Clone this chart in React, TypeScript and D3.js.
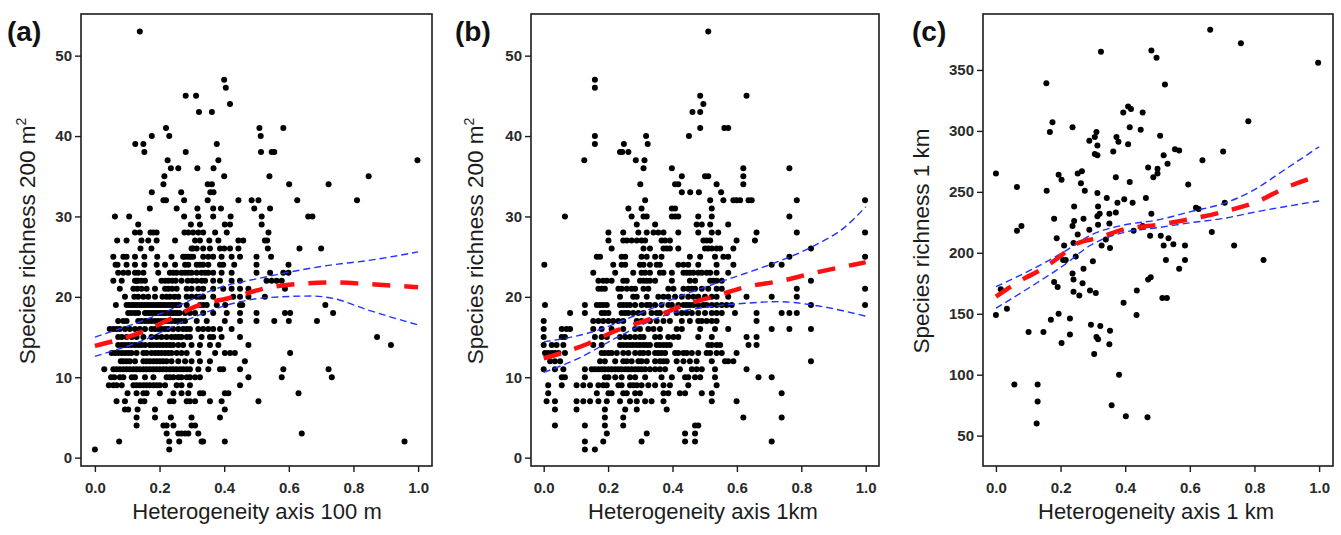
import React, { useEffect, useRef } from "react";
import * as d3 from "d3";

type Row = [number, number[]];
type Pt = [number, number];

// (a) richness in 200 m2 plots vs heterogeneity 100 m; one row per richness value
const rowsA: Row[] = [
  [53, [0.139]],
  [47, [0.4]],
  [46, [0.405]],
  [45, [0.281, 0.313]],
  [44, [0.418]],
  [43, [0.322, 0.362]],
  [41, [0.22, 0.509, 0.583]],
  [40, [0.176, 0.23, 0.513]],
  [39, [0.125, 0.15, 0.377]],
  [38, [0.153, 0.281, 0.514, 0.547, 0.555]],
  [37, [0.225, 0.382, 0.998]],
  [36, [0.235, 0.258, 0.317, 0.367]],
  [35, [0.215, 0.4, 0.54, 0.847]],
  [34, [0.212, 0.349, 0.362, 0.601, 0.723]],
  [33, [0.176, 0.267, 0.357, 0.367]],
  [32, [0.212, 0.22, 0.276, 0.349, 0.444, 0.485, 0.506, 0.626, 0.811]],
  [31, [0.17, 0.253, 0.317, 0.366, 0.39, 0.493, 0.542]],
  [30, [0.062, 0.106, 0.276, 0.32, 0.366, 0.42, 0.516, 0.66, 0.673]],
  [29, [0.134, 0.297, 0.325, 0.402, 0.418, 0.516]],
  [28, [0.124, 0.139, 0.172, 0.181, 0.191, 0.277, 0.289, 0.304, 0.32, 0.335, 0.372, 0.408, 0.537]],
  [27, [0.069, 0.098, 0.144, 0.165, 0.191, 0.248, 0.31, 0.325, 0.354, 0.382, 0.444, 0.459, 0.526, 0.533]],
  [26, [0.141, 0.175, 0.299, 0.304, 0.315, 0.335, 0.356, 0.387, 0.4, 0.418, 0.444, 0.535, 0.633, 0.7]],
  [25, [0.057, 0.088, 0.098, 0.124, 0.153, 0.193, 0.237, 0.273, 0.279, 0.289, 0.297, 0.304, 0.335, 0.351, 0.366, 0.392, 0.423, 0.449, 0.5, 0.545]],
  [24, [0.064, 0.07, 0.098, 0.124, 0.153, 0.191, 0.217, 0.248, 0.279, 0.289, 0.315, 0.325, 0.335, 0.351, 0.387, 0.397, 0.431, 0.5, 0.599]],
  [23, [0.072, 0.088, 0.103, 0.124, 0.134, 0.15, 0.196, 0.232, 0.243, 0.253, 0.268, 0.279, 0.289, 0.299, 0.315, 0.33, 0.341, 0.351, 0.366, 0.392, 0.423, 0.5, 0.542, 0.583, 0.599]],
  [22, [0.057, 0.083, 0.124, 0.129, 0.134, 0.144, 0.155, 0.206, 0.217, 0.227, 0.239, 0.25, 0.268, 0.287, 0.301, 0.315, 0.33, 0.341, 0.366, 0.387, 0.423, 0.449, 0.531, 0.547, 0.562, 0.578]],
  [21, [0.077, 0.119, 0.131, 0.144, 0.16, 0.186, 0.217, 0.227, 0.239, 0.253, 0.284, 0.299, 0.32, 0.335, 0.366, 0.397, 0.423, 0.449, 0.475, 0.588]],
  [20, [0.093, 0.122, 0.134, 0.15, 0.165, 0.186, 0.209, 0.222, 0.232, 0.246, 0.258, 0.284, 0.299, 0.315, 0.325, 0.335, 0.366, 0.428, 0.449, 0.475, 0.526]],
  [19, [0.065, 0.098, 0.106, 0.114, 0.122, 0.13, 0.139, 0.147, 0.155, 0.163, 0.171, 0.18, 0.188, 0.196, 0.204, 0.212, 0.22, 0.229, 0.237, 0.245, 0.253, 0.261, 0.284, 0.325, 0.335, 0.346, 0.377, 0.403, 0.449, 0.456, 0.713]],
  [18, [0.103, 0.113, 0.124, 0.134, 0.155, 0.163, 0.171, 0.18, 0.188, 0.196, 0.204, 0.212, 0.22, 0.229, 0.237, 0.245, 0.253, 0.262, 0.279, 0.294, 0.31, 0.335, 0.366, 0.408, 0.449, 0.5, 0.588, 0.604, 0.737]],
  [17, [0.072, 0.088, 0.098, 0.134, 0.144, 0.155, 0.165, 0.175, 0.186, 0.196, 0.206, 0.217, 0.227, 0.237, 0.248, 0.258, 0.268, 0.279, 0.315, 0.346, 0.402, 0.449, 0.5, 0.555, 0.6, 0.687]],
  [16, [0.046, 0.057, 0.067, 0.077, 0.093, 0.108, 0.124, 0.139, 0.155, 0.175, 0.186, 0.196, 0.206, 0.217, 0.227, 0.242, 0.258, 0.273, 0.284, 0.294, 0.32, 0.335, 0.351, 0.366, 0.387, 0.423]],
  [15, [0.072, 0.083, 0.098, 0.114, 0.129, 0.15, 0.175, 0.191, 0.206, 0.222, 0.237, 0.248, 0.258, 0.268, 0.284, 0.294, 0.33, 0.356, 0.366, 0.392, 0.449, 0.873]],
  [14, [0.072, 0.083, 0.093, 0.103, 0.113, 0.124, 0.134, 0.144, 0.155, 0.17, 0.18, 0.191, 0.201, 0.211, 0.222, 0.232, 0.242, 0.258, 0.273, 0.299, 0.325, 0.356, 0.382, 0.475, 0.916]],
  [13, [0.052, 0.062, 0.072, 0.083, 0.093, 0.103, 0.113, 0.129, 0.15, 0.16, 0.175, 0.186, 0.196, 0.206, 0.217, 0.227, 0.237, 0.253, 0.268, 0.284, 0.32, 0.372, 0.402, 0.418, 0.433, 0.604]],
  [12, [0.08, 0.088, 0.098, 0.108, 0.124, 0.15, 0.16, 0.17, 0.181, 0.191, 0.201, 0.211, 0.222, 0.237, 0.258, 0.279, 0.299, 0.325, 0.356, 0.464]],
  [11, [0.029, 0.057, 0.067, 0.077, 0.088, 0.098, 0.108, 0.119, 0.129, 0.139, 0.15, 0.16, 0.17, 0.18, 0.19, 0.2, 0.211, 0.221, 0.232, 0.242, 0.252, 0.263, 0.273, 0.284, 0.294, 0.32, 0.351, 0.387, 0.397, 0.449, 0.583, 0.723]],
  [10, [0.05, 0.06, 0.077, 0.088, 0.114, 0.124, 0.155, 0.181, 0.222, 0.232, 0.243, 0.258, 0.268, 0.284, 0.294, 0.31, 0.325, 0.475, 0.578, 0.733]],
  [9, [0.043, 0.057, 0.067, 0.083, 0.119, 0.129, 0.139, 0.15, 0.16, 0.17, 0.181, 0.191, 0.201, 0.217, 0.253, 0.268, 0.294, 0.449]],
  [8, [0.101, 0.129, 0.15, 0.16, 0.201, 0.243, 0.268, 0.289, 0.325, 0.335, 0.402, 0.413, 0.63]],
  [7, [0.067, 0.093, 0.142, 0.153, 0.232, 0.243, 0.284, 0.294, 0.31, 0.356, 0.392, 0.506]],
  [6, [0.093, 0.103, 0.132, 0.186, 0.402]],
  [5, [0.129, 0.186, 0.235, 0.299, 0.387]],
  [4, [0.129, 0.212, 0.222, 0.243, 0.299, 0.31]],
  [3, [0.222, 0.258, 0.268, 0.279, 0.289, 0.32, 0.64]],
  [2, [0.075, 0.23, 0.261, 0.33, 0.335, 0.402, 0.958]],
  [1, [0.0, 0.23]],
];
const fitA: Pt[] = [[0, 13.9], [0.15, 15.7], [0.22, 17.0], [0.325, 19.0], [0.41, 19.8], [0.45, 20.2], [0.52, 21.0], [0.6, 21.5], [0.74, 21.8], [0.84, 21.6], [1.0, 21.2]];
const upperA: Pt[] = [[0, 15.0], [0.222, 18.2], [0.367, 20.9], [0.532, 22.5], [0.738, 24.0], [0.842, 24.5], [1.0, 25.6]];
const lowerA: Pt[] = [[0, 12.6], [0.15, 14.6], [0.284, 17.1], [0.429, 19.2], [0.532, 19.9], [0.672, 20.1], [0.738, 19.8], [0.842, 18.4], [1.0, 16.5]];

// (b) richness in 200 m2 plots vs heterogeneity 1 km
const rowsB: Row[] = [
  [53, [0.511]],
  [47, [0.159]],
  [46, [0.159]],
  [45, [0.486, 0.63]],
  [44, [0.496]],
  [43, [0.462, 0.486]],
  [41, [0.486, 0.561, 0.573]],
  [40, [0.159, 0.318, 0.451]],
  [39, [0.159, 0.249, 0.323]],
  [38, [0.237, 0.244, 0.263]],
  [37, [0.126, 0.286, 0.313]],
  [36, [0.31, 0.398, 0.62, 0.763]],
  [35, [0.429, 0.501, 0.511, 0.62]],
  [34, [0.3, 0.408, 0.418, 0.537, 0.62]],
  [33, [0.429, 0.455, 0.482, 0.551]],
  [32, [0.315, 0.517, 0.558, 0.589, 0.599, 0.61, 0.636, 0.646, 0.786, 0.998]],
  [31, [0.263, 0.304, 0.398, 0.408, 0.522]],
  [30, [0.066, 0.273, 0.31, 0.32, 0.398, 0.408, 0.418, 0.48, 0.522, 0.763]],
  [29, [0.289, 0.346, 0.475, 0.491, 0.517, 0.573]],
  [28, [0.201, 0.247, 0.294, 0.32, 0.341, 0.356, 0.372, 0.418, 0.48, 0.522, 0.542, 0.661, 0.786, 0.998]],
  [27, [0.201, 0.247, 0.258, 0.273, 0.289, 0.304, 0.315, 0.366, 0.377, 0.392, 0.496, 0.506, 0.517, 0.599, 0.656]],
  [26, [0.211, 0.31, 0.33, 0.372, 0.382, 0.392, 0.418, 0.501, 0.511, 0.522, 0.537, 0.548, 0.589, 0.83]],
  [25, [0.165, 0.175, 0.242, 0.253, 0.304, 0.32, 0.346, 0.366, 0.454, 0.486, 0.532, 0.558, 0.573, 0.763, 0.998]],
  [24, [0.002, 0.216, 0.242, 0.253, 0.299, 0.31, 0.33, 0.351, 0.361, 0.418, 0.434, 0.449, 0.48, 0.537, 0.589, 0.708, 0.739]],
  [23, [0.154, 0.222, 0.278, 0.304, 0.315, 0.33, 0.361, 0.372, 0.398, 0.434, 0.444, 0.454, 0.465, 0.48, 0.491, 0.506, 0.517, 0.537, 0.573]],
  [22, [0.17, 0.185, 0.196, 0.211, 0.247, 0.258, 0.299, 0.31, 0.32, 0.33, 0.346, 0.398, 0.454, 0.47, 0.517, 0.527, 0.537, 0.553, 0.83]],
  [21, [0.17, 0.18, 0.19, 0.232, 0.242, 0.258, 0.273, 0.284, 0.31, 0.325, 0.387, 0.403, 0.434, 0.449, 0.46, 0.47, 0.491, 0.511, 0.537, 0.553, 0.786, 0.998]],
  [20, [0.237, 0.278, 0.289, 0.32, 0.356, 0.372, 0.387, 0.408, 0.429, 0.449, 0.465, 0.48, 0.501, 0.522, 0.537, 0.573, 0.63, 0.708, 0.786]],
  [19, [0.004, 0.128, 0.165, 0.175, 0.185, 0.196, 0.237, 0.247, 0.258, 0.268, 0.284, 0.304, 0.32, 0.33, 0.346, 0.366, 0.387, 0.398, 0.418, 0.434, 0.444, 0.454, 0.465, 0.48, 0.496, 0.506, 0.522, 0.537, 0.553, 0.568, 0.584, 0.83, 0.998]],
  [18, [0.082, 0.128, 0.18, 0.19, 0.201, 0.242, 0.253, 0.263, 0.278, 0.294, 0.31, 0.335, 0.351, 0.361, 0.382, 0.413, 0.429, 0.444, 0.46, 0.48, 0.501, 0.522, 0.537, 0.553, 0.594, 0.661, 0.739, 0.763, 0.786]],
  [17, [0.0, 0.154, 0.17, 0.185, 0.201, 0.216, 0.232, 0.247, 0.289, 0.304, 0.33, 0.351, 0.372, 0.392, 0.429, 0.454, 0.48, 0.491, 0.506, 0.522, 0.537, 0.661]],
  [16, [0.0, 0.056, 0.071, 0.082, 0.154, 0.18, 0.211, 0.247, 0.284, 0.299, 0.325, 0.341, 0.361, 0.413, 0.429, 0.486, 0.532, 0.573, 0.708, 0.763, 0.83]],
  [15, [0.0, 0.056, 0.066, 0.159, 0.18, 0.196, 0.237, 0.253, 0.268, 0.284, 0.299, 0.31, 0.346, 0.361, 0.387, 0.403, 0.418, 0.48, 0.522, 0.63, 0.661]],
  [14, [0.0, 0.025, 0.04, 0.061, 0.154, 0.18, 0.237, 0.247, 0.258, 0.268, 0.278, 0.289, 0.299, 0.31, 0.32, 0.33, 0.351, 0.361, 0.372, 0.382, 0.392, 0.511, 0.522, 0.537, 0.548, 0.636, 0.661]],
  [13, [0.004, 0.014, 0.025, 0.035, 0.046, 0.066, 0.18, 0.19, 0.201, 0.211, 0.227, 0.247, 0.263, 0.284, 0.299, 0.31, 0.325, 0.346, 0.356, 0.366, 0.377, 0.408, 0.418, 0.434, 0.444, 0.46, 0.48, 0.506, 0.517, 0.537, 0.553, 0.599]],
  [12, [0.02, 0.035, 0.051, 0.175, 0.19, 0.222, 0.247, 0.258, 0.273, 0.294, 0.304, 0.32, 0.346, 0.361, 0.372, 0.382, 0.413, 0.434, 0.454, 0.475, 0.522, 0.563, 0.573, 0.589, 0.83]],
  [11, [0.0, 0.035, 0.061, 0.128, 0.149, 0.159, 0.17, 0.18, 0.19, 0.201, 0.211, 0.222, 0.232, 0.242, 0.253, 0.263, 0.273, 0.284, 0.294, 0.304, 0.315, 0.33, 0.346, 0.361, 0.377, 0.423, 0.46, 0.475, 0.491, 0.532, 0.63]],
  [10, [0.056, 0.066, 0.128, 0.19, 0.201, 0.222, 0.242, 0.268, 0.284, 0.315, 0.366, 0.398, 0.439, 0.449, 0.47, 0.486, 0.532, 0.667, 0.708]],
  [9, [0.014, 0.056, 0.102, 0.123, 0.144, 0.17, 0.185, 0.196, 0.232, 0.242, 0.268, 0.278, 0.289, 0.304, 0.325, 0.346, 0.372, 0.392, 0.449, 0.537]],
  [8, [0.014, 0.165, 0.201, 0.211, 0.247, 0.258, 0.284, 0.299, 0.372, 0.387, 0.423, 0.439, 0.491, 0.522, 0.739]],
  [7, [0.009, 0.035, 0.102, 0.123, 0.144, 0.17, 0.196, 0.237, 0.268, 0.289, 0.315, 0.335, 0.372, 0.522, 0.599]],
  [6, [0.035, 0.102, 0.19, 0.253, 0.289, 0.382]],
  [5, [0.19, 0.247, 0.62, 0.739]],
  [4, [0.035, 0.128, 0.19, 0.247, 0.47, 0.48]],
  [3, [0.196, 0.32, 0.439, 0.47]],
  [2, [0.128, 0.185, 0.304, 0.439, 0.47, 0.708]],
  [1, [0.128, 0.159]],
];
const fitB: Pt[] = [[0, 12.35], [0.139, 14.2], [0.222, 15.75], [0.335, 17.3], [0.439, 19.0], [0.542, 20.2], [0.625, 21.2], [0.739, 22.0], [0.832, 22.9], [0.962, 24.0], [1.0, 24.3]];
const upperB: Pt[] = [[0, 14.4], [0.139, 15.5], [0.315, 18.2], [0.418, 20.0], [0.522, 21.5], [0.625, 22.9], [0.729, 24.4], [0.832, 26.2], [0.936, 28.7], [1.0, 31.2]];
const lowerB: Pt[] = [[0, 10.6], [0.108, 12.35], [0.232, 15.05], [0.377, 17.7], [0.522, 18.8], [0.625, 19.2], [0.729, 19.4], [0.832, 19.0], [1.0, 17.6]];

// (c) richness in 1 km cells vs heterogeneity 1 km: [heterogeneity, richness]
const pointsC: Pt[] = [
  [0, 265], [0, 149], [0.015, 170], [0.034, 154], [0.057, 92], [0.065, 218], [0.065, 254], [0.079, 222],
  [0.101, 135], [0.129, 92], [0.129, 78], [0.126, 60], [0.147, 135], [0.156, 339], [0.157, 251], [0.167, 299],
  [0.175, 307], [0.17, 145], [0.18, 228], [0.18, 176], [0.188, 212], [0.191, 172], [0.194, 150], [0.194, 264],
  [0.203, 260], [0.203, 126], [0.211, 206], [0.208, 194], [0.216, 194], [0.229, 146], [0.229, 133], [0.237, 303],
  [0.237, 222], [0.242, 238], [0.242, 226], [0.24, 208], [0.237, 183], [0.24, 178], [0.24, 168], [0.247, 197],
  [0.253, 215], [0.253, 265], [0.258, 165], [0.263, 257], [0.266, 267], [0.268, 175], [0.271, 228], [0.271, 187],
  [0.275, 251], [0.289, 219], [0.289, 292], [0.294, 141], [0.291, 169], [0.3, 193], [0.306, 295], [0.306, 281],
  [0.309, 167], [0.311, 299], [0.314, 288], [0.314, 280], [0.304, 117], [0.311, 131], [0.316, 129], [0.314, 249],
  [0.316, 238], [0.321, 232], [0.314, 230], [0.316, 223], [0.323, 140], [0.325, 365], [0.327, 206], [0.343, 245],
  [0.351, 232], [0.351, 224], [0.353, 204], [0.351, 125], [0.353, 136], [0.358, 75], [0.34, 211], [0.363, 283],
  [0.371, 262], [0.371, 233], [0.373, 295], [0.379, 291], [0.376, 241], [0.381, 100], [0.395, 159], [0.394, 315],
  [0.397, 244], [0.402, 66], [0.409, 320], [0.418, 318], [0.409, 289], [0.414, 258], [0.414, 303], [0.423, 241],
  [0.426, 218], [0.435, 149], [0.436, 169], [0.454, 315], [0.448, 301], [0.454, 222], [0.464, 245], [0.469, 65],
  [0.471, 270], [0.477, 214], [0.471, 178], [0.479, 180], [0.481, 366], [0.481, 232], [0.487, 262], [0.497, 360],
  [0.5, 265], [0.5, 269], [0.508, 296], [0.51, 214], [0.515, 163], [0.519, 206], [0.519, 280], [0.523, 338],
  [0.526, 194], [0.529, 163], [0.531, 273], [0.534, 212], [0.549, 207], [0.554, 285], [0.567, 284], [0.567, 187],
  [0.585, 206], [0.585, 194], [0.595, 256], [0.619, 237], [0.627, 236], [0.639, 276], [0.663, 383], [0.668, 217],
  [0.703, 283], [0.708, 241], [0.737, 206], [0.758, 372], [0.781, 308], [0.828, 194], [0.997, 356],
];
const fitC: Pt[] = [[0, 164], [0.088, 179], [0.139, 186], [0.191, 195.5], [0.253, 207.8], [0.314, 212], [0.397, 219.3], [0.5, 222.8], [0.603, 227.7], [0.706, 233.8], [0.809, 242], [0.892, 252.9], [1.0, 263.3]];
const upperC: Pt[] = [[0, 172.2], [0.108, 185.9], [0.211, 200.9], [0.294, 214.6], [0.397, 222.8], [0.5, 226.9], [0.603, 233.8], [0.706, 240.6], [0.789, 250.2], [0.892, 267.9], [1.0, 287]];
const lowerC: Pt[] = [[0, 154.5], [0.108, 172.2], [0.211, 190], [0.294, 206.4], [0.397, 216.8], [0.5, 220.6], [0.603, 224.7], [0.706, 228.3], [0.809, 233.8], [1.0, 242.5]];

const xTicks = [0, 0.2, 0.4, 0.6, 0.8, 1.0];
const yTicks200 = [0, 10, 20, 30, 40, 50];
const yTicks1km = [50, 100, 150, 200, 250, 300, 350];

const FONT = "'Liberation Sans', Arial, Helvetica, sans-serif";
const INK = "#1c1c1c";

const Axis = ({ scale, orient, transform, tickValues, format, padding }: any) => {
  const ref = useRef<SVGGElement>(null);
  useEffect(() => {
    const gen = orient === "bottom" ? d3.axisBottom(scale) : d3.axisLeft(scale);
    gen.tickValues(tickValues).tickFormat(format).tickSize(6).tickSizeOuter(0).tickPadding(padding);
    const g = d3.select(ref.current!).call(gen as any);
    g.attr("font-size", 15).attr("font-family", FONT).attr("font-weight", 600);
    g.select(".domain").remove();
    g.selectAll(".tick line").attr("stroke", INK).attr("stroke-width", 1.4);
    g.selectAll(".tick text").attr("fill", "#2a2a2a");
  }, [scale, orient]);
  return <g ref={ref} transform={transform} />;
};

const Panel = ({ cfg }: any) => {
  const { x0, x1, xDomain, yDomain, yTicks, points, fit, upper, lower, label, labelX, yTitle, sup, yTitleX, xTitle, xTitleX } = cfg;
  const y0 = 14;
  const y1 = 466;
  const x = d3.scaleLinear().domain(xDomain).range([x0, x1]);
  const y = d3.scaleLinear().domain(yDomain).range([y1, y0]);
  const line = d3
    .line<Pt>()
    .x((d) => x(d[0]))
    .y((d) => y(d[1]))
    .curve(d3.curveMonotoneX);

  return (
    <g>
      <text x={labelX} y={41} fontFamily={FONT} fontWeight={700} fontSize={28} fill="#111">
        {label}
      </text>
      <g clipPath={`url(#clip-${label})`}>
        {points.map((p: Pt, i: number) => (
          <circle key={i} cx={x(p[0])} cy={y(p[1])} r={3} fill="#000" />
        ))}
        <path d={line(upper)!} fill="none" stroke="#2233ff" strokeWidth={1.4} strokeDasharray="7 4" />
        <path d={line(lower)!} fill="none" stroke="#2233ff" strokeWidth={1.4} strokeDasharray="7 4" />
        <path d={line(fit)!} fill="none" stroke="#ff1010" strokeWidth={4.5} strokeDasharray="18 14" />
      </g>
      <clipPath id={`clip-${label}`}>
        <rect x={x0} y={y0} width={x1 - x0} height={y1 - y0} />
      </clipPath>
      <rect x={x0} y={y0} width={x1 - x0} height={y1 - y0} fill="none" stroke={INK} strokeWidth={1.6} />
      <Axis scale={y} orient="left" transform={`translate(${x0},0)`} tickValues={yTicks} format={d3.format("d")} padding={3} />
      <Axis scale={x} orient="bottom" transform={`translate(0,${y1})`} tickValues={xTicks} format={d3.format(".1f")} padding={10} />
      <text
        transform={`translate(${yTitleX},241) rotate(-90)`}
        textAnchor="middle"
        fontFamily={FONT}
        fontSize={22.5}
        fill={INK}
      >
        {yTitle}
        {sup && (
          <tspan fontSize={14} dy={-9}>
            {sup}
          </tspan>
        )}
      </text>
      <text x={xTitleX} y={519} textAnchor="middle" fontFamily={FONT} fontSize={22} fill={INK}>
        {xTitle}
      </text>
    </g>
  );
};

const flatten = (rows: Row[]): Pt[] => rows.flatMap(([v, xs]) => xs.map((h) => [h, v] as Pt));

export default function App() {
  const panels = [
    {
      label: "(a)", labelX: 7, x0: 81, x1: 432, xDomain: [-0.043, 1.043], yDomain: [-1.04, 55.18], yTicks: yTicks200,
      points: flatten(rowsA), fit: fitA, upper: upperA, lower: lowerA,
      yTitle: "Species richness 200 m", sup: "2", yTitleX: 35, xTitle: "Heterogeneity axis 100 m", xTitleX: 257,
    },
    {
      label: "(b)", labelX: 455, x0: 531, x1: 879, xDomain: [-0.0394, 1.0413], yDomain: [-1.04, 55.18], yTicks: yTicks200,
      points: flatten(rowsB), fit: fitB, upper: upperB, lower: lowerB,
      yTitle: "Species richness 200 m", sup: "2", yTitleX: 483, xTitle: "Heterogeneity axis 1km", xTitleX: 703,
    },
    {
      label: "(c)", labelX: 912, x0: 983, x1: 1333, xDomain: [-0.04, 1.043], yDomain: [25.1, 395.9], yTicks: yTicks1km,
      points: pointsC, fit: fitC, upper: upperC, lower: lowerC,
      yTitle: "Species richness 1 km", sup: null, yTitleX: 929, xTitle: "Heterogeneity axis 1 km", xTitleX: 1156,
    },
  ];
  return (
    <svg width={1341} height={535} style={{ position: "absolute", left: 0, top: 0, background: "#fff" }}>
      <rect width={1341} height={535} fill="#fff" />
      {panels.map((p) => (
        <Panel key={p.label} cfg={p} />
      ))}
    </svg>
  );
}
